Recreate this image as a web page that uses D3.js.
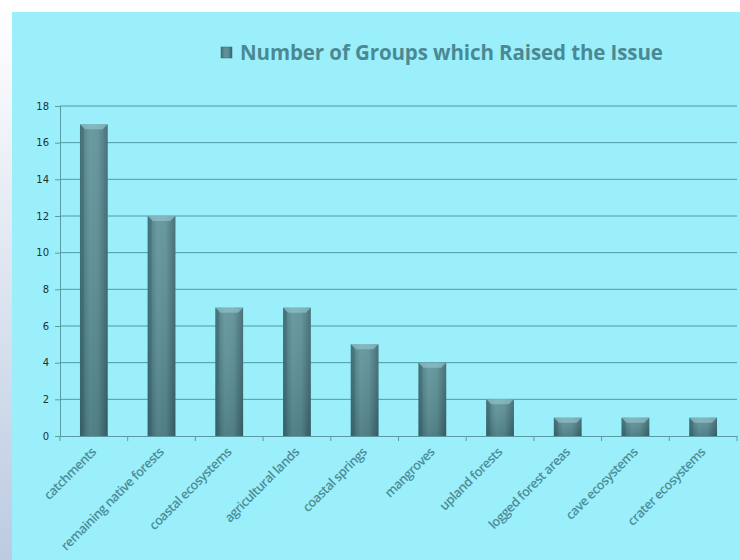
<!DOCTYPE html>
<html lang="en">
<head>
<meta charset="UTF-8">
<title>Number of Groups which Raised the Issue</title>
<style>
    body { margin: 0; background: #ffffff; }
    svg { display: block; }
    .tick text { font-family: "DejaVu Sans", sans-serif; }
</style>
</head>
<body>
<svg id="chart" width="740" height="560"></svg>

<script src="https://d3js.org/d3.v7.min.js"></script>
<script>
    // data
    const categories = ['catchments', 'remaining native forests', 'coastal ecosystems',
        'agricultural lands', 'coastal springs', 'mangroves', 'upland forests',
        'logged forest areas', 'cave ecosystems', 'crater ecosystems'];
    const groupCounts = [17, 12, 7, 7, 5, 4, 2, 1, 1, 1];
    const yTicks = [0, 2, 4, 6, 8, 10, 12, 14, 16, 18];
    const seriesName = 'Number of Groups which Raised the Issue';

    const svg = d3.select('#chart');
    const defs = svg.append('defs');

    // left edge strip: white -> pale blue
    const side = defs.append('linearGradient').attr('id', 'side')
        .attr('x1', 0).attr('y1', 0).attr('x2', 0).attr('y2', 1);
    side.append('stop').attr('offset', '0%').attr('stop-color', '#ffffff');
    side.append('stop').attr('offset', '100%').attr('stop-color', '#bccbe2');

    // bar body shading (left/right darker)
    const barGrad = defs.append('linearGradient').attr('id', 'barGrad')
        .attr('x1', 0).attr('y1', 0).attr('x2', 1).attr('y2', 0);
    barGrad.append('stop').attr('offset', '0%').attr('stop-color', '#3f6f77');
    barGrad.append('stop').attr('offset', '35%').attr('stop-color', '#5f939b');
    barGrad.append('stop').attr('offset', '65%').attr('stop-color', '#5b8e96');
    barGrad.append('stop').attr('offset', '100%').attr('stop-color', '#3a666d');

    const barShade = defs.append('linearGradient').attr('id', 'barShade')
        .attr('x1', 0).attr('y1', 0).attr('x2', 0).attr('y2', 1);
    barShade.append('stop').attr('offset', '0%').attr('stop-color', '#ffffff').attr('stop-opacity', 0.08);
    barShade.append('stop').attr('offset', '100%').attr('stop-color', '#000000').attr('stop-opacity', 0.12);

    svg.append('rect').attr('x', 0).attr('y', 0).attr('width', 12).attr('height', 560)
        .attr('fill', 'url(#side)');
    svg.append('rect').attr('x', 12).attr('y', 12).attr('width', 728).attr('height', 548)
        .attr('fill', '#9beffb');

    const margin = { left: 60, right: 3, top: 106, bottom: 124 };
    const width = 740 - margin.left - margin.right;
    const height = 560 - margin.top - margin.bottom;

    const g = svg.append('g').attr('transform', `translate(${margin.left},${margin.top})`);

    const x = d3.scaleBand().domain(categories).range([0, width]).paddingInner(0.59).paddingOuter(0.295);
    const y = d3.scaleLinear().domain([0, 18]).range([height, 0]);

    // gridlines
    g.selectAll('.grid').data(yTicks.slice(1)).enter().append('line')
        .attr('class', 'grid')
        .attr('x1', 0).attr('x2', width)
        .attr('y1', d => y(d)).attr('y2', d => y(d))
        .attr('stroke', '#4f9aa4').attr('stroke-width', 1);

    // y axis
    const yAxis = g.append('g').call(d3.axisLeft(y).tickValues(yTicks).tickSize(5).tickPadding(6));
    yAxis.select('.domain').attr('stroke', '#5a9aa3');
    yAxis.selectAll('.tick line').attr('stroke', '#5a9aa3');
    yAxis.selectAll('.tick text').attr('fill', '#1f2f33').style('font-size', '10px');

    // x axis with ticks on band boundaries
    const xAxis = g.append('g').attr('transform', `translate(0,${height})`)
        .call(d3.axisBottom(x).tickSize(0).tickFormat(''));
    xAxis.select('.domain').attr('stroke', '#5a9aa3');
    const bounds = d3.range(categories.length + 1).map(i => i * width / categories.length);
    xAxis.selectAll('.bound').data(bounds).enter().append('line')
        .attr('class', 'bound')
        .attr('x1', d => d).attr('x2', d => d).attr('y1', 0).attr('y2', 5)
        .attr('stroke', '#5a9aa3');

    // bars
    const bars = g.selectAll('.bar').data(categories).enter().append('g').attr('class', 'bar');
    bars.append('rect')
        .attr('x', d => x(d)).attr('width', x.bandwidth())
        .attr('y', (d, i) => y(groupCounts[i])).attr('height', (d, i) => height - y(groupCounts[i]))
        .attr('fill', 'url(#barGrad)');
    bars.append('rect')
        .attr('x', d => x(d)).attr('width', x.bandwidth())
        .attr('y', (d, i) => y(groupCounts[i])).attr('height', (d, i) => height - y(groupCounts[i]))
        .attr('fill', 'url(#barShade)');
    // bevelled top
    bars.append('path')
        .attr('d', (d, i) => {
            const x0 = x(d), x1 = x0 + x.bandwidth(), t = y(groupCounts[i]), b = 5;
            return `M${x0},${t}L${x1},${t}L${x1 - b},${t + b}L${x0 + b},${t + b}Z`;
        })
        .attr('fill', '#8fc2c9').attr('opacity', 0.7);
    bars.append('path')
        .attr('d', (d, i) => {
            const x0 = x(d), t = y(groupCounts[i]), b = 4;
            return `M${x0},${t}L${x0 + b},${t + b}L${x0 + b},${height}L${x0},${height}Z`;
        })
        .attr('fill', '#2f5a60').attr('opacity', 0.3);

    // category labels, rotated
    g.selectAll('.cat').data(categories).enter().append('text')
        .attr('class', 'cat')
        .attr('transform', d => `translate(${x(d) + x.bandwidth() / 2 + 3},${height + 17}) rotate(-45)`)
        .attr('text-anchor', 'end')
        .attr('fill', '#4d8d96')
        .style('font-family', '"Open Sans", sans-serif')
        .style('font-weight', '600')
        .style('font-size', '12.8px')
        .style('letter-spacing', '-0.5px')
        .text(d => d);

    // legend
    const legend = svg.append('g').attr('transform', 'translate(221,47)');
    legend.append('rect').attr('x', 0).attr('y', 0).attr('width', 11).attr('height', 11)
        .attr('fill', 'url(#barGrad)').attr('stroke', '#3a666d').attr('stroke-width', 0.5);
    legend.append('text').attr('x', 19).attr('y', 13)
        .attr('fill', '#4a8993')
        .style('font-family', '"Open Sans", sans-serif')
        .style('font-weight', 'bold')
        .style('font-size', '20.5px')
        .style('letter-spacing', '-0.1px')
        .text(seriesName);
</script>
</body>
</html>
